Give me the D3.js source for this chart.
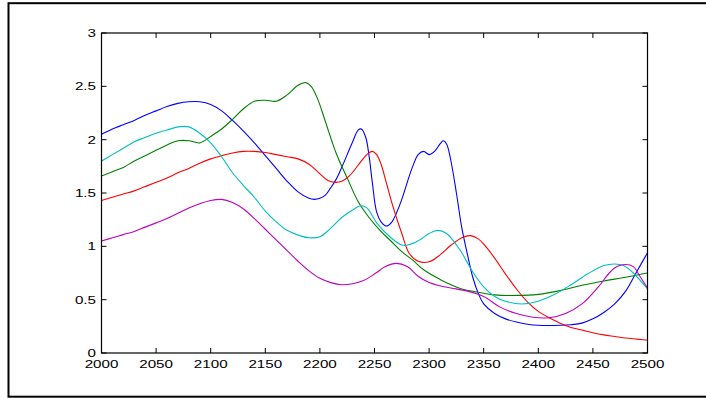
<!DOCTYPE html>
<html>
	<head>
		<meta charset="UTF-8">
		<script src="https://d3js.org/d3.v7.min.js"></script>
		<title>Spectres</title>
		<style>
			body { margin: 0; background: #fff; }
			text { font-family: "Liberation Sans", Arial, sans-serif; font-size: 11.5px; fill: #000; }
		</style>
	</head>
	<body>
		<div id="chart"></div>
		<script>

			// longueurs d'onde / valeurs
			var blue = [[2000,2.05],[2010,2.10],[2020,2.14],[2030,2.18],[2040,2.23],[2050,2.27],[2060,2.31],[2070,2.34],[2080,2.355],[2090,2.355],[2100,2.33],[2110,2.27],[2120,2.18],[2130,2.08],[2140,1.97],[2150,1.85],[2160,1.73],[2170,1.61],[2180,1.51],[2190,1.45],[2195,1.44],[2200,1.45],[2205,1.48],[2210,1.55],[2215,1.63],[2220,1.74],[2225,1.86],[2230,1.98],[2235,2.09],[2238,2.10],[2242,2.02],[2245,1.85],[2248,1.60],[2252,1.32],[2256,1.23],[2261,1.19],[2266,1.23],[2270,1.31],[2275,1.44],[2280,1.60],[2285,1.75],[2290,1.86],[2295,1.89],[2300,1.86],[2305,1.89],[2310,1.96],[2313,1.99],[2316,1.96],[2320,1.80],[2325,1.50],[2330,1.17],[2335,0.93],[2340,0.71],[2345,0.56],[2350,0.46],[2360,0.37],[2370,0.32],[2380,0.29],[2390,0.27],[2400,0.26],[2420,0.26],[2430,0.265],[2440,0.28],[2450,0.32],[2460,0.38],[2470,0.46],[2480,0.58],[2490,0.76],[2500,0.94]];

			var green = [[2000,1.66],[2010,1.70],[2020,1.74],[2030,1.80],[2040,1.85],[2050,1.90],[2060,1.95],[2070,1.99],[2080,1.99],[2090,1.97],[2100,2.03],[2110,2.10],[2120,2.19],[2130,2.29],[2140,2.36],[2150,2.37],[2160,2.36],[2170,2.42],[2180,2.51],[2187,2.535],[2192,2.50],[2198,2.38],[2205,2.17],[2215,1.87],[2225,1.64],[2235,1.42],[2245,1.27],[2255,1.15],[2265,1.05],[2275,0.95],[2285,0.87],[2295,0.78],[2310,0.69],[2320,0.64],[2330,0.60],[2345,0.57],[2360,0.545],[2380,0.54],[2400,0.55],[2420,0.585],[2440,0.635],[2460,0.675],[2480,0.71],[2500,0.75]];

			var red = [[2000,1.43],[2010,1.46],[2020,1.49],[2030,1.52],[2040,1.56],[2050,1.60],[2060,1.64],[2070,1.69],[2080,1.73],[2090,1.78],[2100,1.82],[2110,1.85],[2120,1.875],[2130,1.89],[2140,1.89],[2150,1.88],[2160,1.86],[2170,1.84],[2180,1.82],[2190,1.77],[2200,1.68],[2207,1.62],[2214,1.60],[2220,1.61],[2227,1.66],[2235,1.76],[2243,1.86],[2248,1.89],[2252,1.86],[2256,1.77],[2261,1.59],[2267,1.37],[2275,1.12],[2282,0.93],[2290,0.86],[2300,0.855],[2310,0.92],[2320,1.01],[2330,1.08],[2338,1.10],[2345,1.07],[2350,1.02],[2360,0.89],[2370,0.74],[2380,0.60],[2390,0.48],[2400,0.39],[2410,0.33],[2420,0.28],[2430,0.24],[2440,0.215],[2450,0.19],[2460,0.17],[2470,0.155],[2480,0.14],[2490,0.13],[2500,0.12]];

			var cyan = [[2000,1.80],[2010,1.86],[2020,1.92],[2030,1.98],[2040,2.02],[2050,2.06],[2060,2.09],[2070,2.12],[2080,2.12],[2090,2.06],[2100,1.97],[2110,1.84],[2120,1.69],[2130,1.57],[2140,1.46],[2150,1.33],[2160,1.23],[2170,1.15],[2180,1.105],[2190,1.08],[2200,1.09],[2210,1.17],[2220,1.27],[2230,1.34],[2237,1.38],[2243,1.36],[2252,1.22],[2264,1.09],[2276,1.01],[2288,1.04],[2300,1.12],[2308,1.15],[2316,1.12],[2328,0.97],[2340,0.76],[2350,0.62],[2360,0.53],[2370,0.485],[2385,0.46],[2400,0.485],[2415,0.55],[2430,0.64],[2445,0.74],[2460,0.82],[2470,0.835],[2478,0.82],[2487,0.75],[2500,0.60]];

			var magenta = [[2000,1.05],[2010,1.08],[2020,1.11],[2030,1.14],[2040,1.18],[2050,1.22],[2060,1.26],[2070,1.31],[2080,1.36],[2090,1.40],[2100,1.43],[2110,1.44],[2120,1.41],[2130,1.35],[2140,1.26],[2150,1.16],[2160,1.06],[2170,0.96],[2180,0.86],[2190,0.77],[2200,0.70],[2210,0.66],[2220,0.64],[2230,0.65],[2240,0.68],[2250,0.74],[2260,0.81],[2270,0.84],[2280,0.81],[2290,0.72],[2300,0.66],[2310,0.63],[2320,0.61],[2335,0.58],[2350,0.53],[2365,0.43],[2380,0.37],[2395,0.335],[2410,0.33],[2425,0.37],[2440,0.46],[2455,0.62],[2465,0.75],[2472,0.81],[2480,0.83],[2487,0.81],[2493,0.72],[2500,0.61]];

			var xTicks = [2000, 2050, 2100, 2150, 2200, 2250, 2300, 2350, 2400, 2450, 2500];
			var yTicks = [0, 0.5, 1, 1.5, 2, 2.5, 3];

			var series = [
				{ data: blue, color: "#0000ff" },
				{ data: green, color: "#008000" },
				{ data: red, color: "#ff0000" },
				{ data: cyan, color: "#00bfbf" },
				{ data: magenta, color: "#bf00bf" }
			];

			var width = 706, height = 398;
			var pLeft = 101.5, pRight = 647.5, pTop = 33, pBottom = 353;
			var stretch = 1.32; // texte élargi comme sur l'original

			var x = d3.scaleLinear().domain([2000, 2500]).range([pLeft, pRight]);
			var y = d3.scaleLinear().domain([0, 3]).range([pBottom, pTop]);

			var svg = d3.select("#chart").append("svg")
				.attr("width", width)
				.attr("height", height);

			// cadre de la figure
			svg.append("rect")
				.attr("x", 8.5).attr("y", 3.2)
				.attr("width", 720).attr("height", 393.5)
				.attr("fill", "none")
				.attr("stroke", "#000")
				.attr("stroke-width", 2);

			// courbes
			var line = d3.line()
				.x(function(d) { return x(d[0]); })
				.y(function(d) { return y(d[1]); })
				.curve(d3.curveCatmullRom.alpha(0.5));

			svg.append("g").selectAll("path")
				.data(series)
				.enter().append("path")
				.attr("d", function(s) { return line(s.data); })
				.attr("fill", "none")
				.attr("stroke", function(s) { return s.color; })
				.attr("stroke-width", 1.1);

			// boite des axes
			svg.append("rect")
				.attr("x", pLeft).attr("y", pTop)
				.attr("width", pRight - pLeft).attr("height", pBottom - pTop)
				.attr("fill", "none")
				.attr("stroke", "#000")
				.attr("stroke-width", 1.2);

			// graduations vers l'interieur
			var tl = 5;
			xTicks.forEach(function(t) {
				svg.append("line").attr("x1", x(t)).attr("x2", x(t)).attr("y1", pBottom).attr("y2", pBottom - tl).attr("stroke", "#000");
				svg.append("line").attr("x1", x(t)).attr("x2", x(t)).attr("y1", pTop).attr("y2", pTop + tl).attr("stroke", "#000");
			});
			yTicks.forEach(function(t) {
				svg.append("line").attr("x1", pLeft).attr("x2", pLeft + tl).attr("y1", y(t)).attr("y2", y(t)).attr("stroke", "#000");
				svg.append("line").attr("x1", pRight).attr("x2", pRight - tl).attr("y1", y(t)).attr("y2", y(t)).attr("stroke", "#000");
			});

			// etiquettes
			svg.append("g").selectAll("text")
				.data(xTicks)
				.enter().append("text")
				.attr("transform", function(d) { return "translate(" + x(d) + ",367.5) scale(" + stretch + ",1)"; })
				.attr("text-anchor", "middle")
				.text(function(d) { return d; });

			svg.append("g").selectAll("text")
				.data(yTicks)
				.enter().append("text")
				.attr("transform", function(d) { return "translate(96," + (y(d) + 4) + ") scale(" + stretch + ",1)"; })
				.attr("text-anchor", "end")
				.text(function(d) { return d; });

		</script>
	</body>
</html>
